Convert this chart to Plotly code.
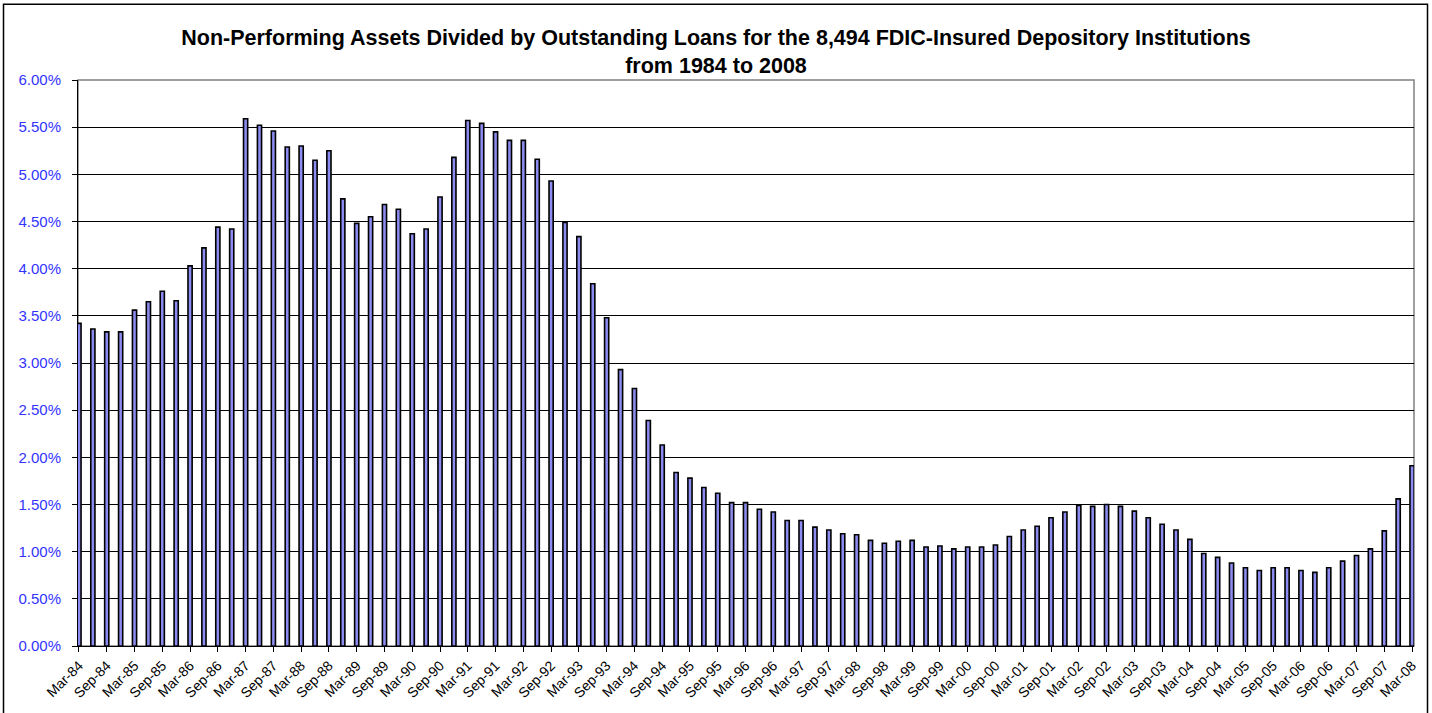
import plotly.graph_objects as go

# ---- data -------------------------------------------------------------
years = [f"{y % 100:02d}" for y in range(1984, 2009)]
months = ["Mar", "Jun", "Sep", "Dec"]
quarters = [f"{m}-{y}" for y in years for m in months][:97]  # Mar-84 .. Mar-08

npa_pct = [
    3.42, 3.36, 3.33, 3.33, 3.56, 3.65, 3.76, 3.66, 4.03, 4.22,
    4.44, 4.42, 5.59, 5.52, 5.46, 5.29, 5.30, 5.15, 5.25, 4.74,
    4.48, 4.55, 4.68, 4.63, 4.37, 4.42, 4.76, 5.18, 5.57, 5.54,
    5.45, 5.36, 5.36, 5.16, 4.93, 4.49, 4.34, 3.84, 3.48, 2.93,
    2.73, 2.39, 2.13, 1.84, 1.78, 1.68, 1.62, 1.52, 1.52, 1.45,
    1.42, 1.33, 1.33, 1.26, 1.23, 1.19, 1.18, 1.12, 1.09, 1.11,
    1.12, 1.05, 1.06, 1.03, 1.05, 1.05, 1.07, 1.16, 1.23, 1.27,
    1.36, 1.42, 1.49, 1.48, 1.50, 1.48, 1.43, 1.36, 1.29, 1.23,
    1.13, 0.98, 0.94, 0.88, 0.83, 0.80, 0.83, 0.83, 0.80, 0.78,
    0.83, 0.90, 0.96, 1.03, 1.22, 1.56, 1.91,
]

tick_idx = list(range(0, len(quarters), 2))
tick_labels = [quarters[i] for i in tick_idx]
y_ticks = [0.0, 0.005, 0.01, 0.015, 0.02, 0.025, 0.03, 0.035, 0.04, 0.045, 0.05, 0.055, 0.06]

# ---- figure -----------------------------------------------------------
x_idx = list(range(len(quarters)))
fig = go.Figure(
    go.Bar(
        x=x_idx,
        y=[v / 100 for v in npa_pct],
        width=0.3,
        marker=dict(color="#8C8CF0", line=dict(color="black", width=1.6)),
        customdata=quarters,
        hovertemplate="%{customdata}: %{y:.2%}<extra></extra>",
    )
)

W, H = 1432, 713
L, R, T, B = 78, 18, 80, 65
pw, ph = W - L - R, H - T - B

def px_x(p):
    return (p - L) / pw

def px_y(p):
    return (H - B - p) / ph

fig.update_layout(
    width=W,
    height=H,
    margin=dict(l=L, r=R, t=T, b=B),
    paper_bgcolor="white",
    plot_bgcolor="white",
    showlegend=False,
    font=dict(family="Arial, Liberation Sans, sans-serif", color="black"),
    title=dict(
        text="Non-Performing Assets Divided by Outstanding Loans for the 8,494 FDIC-Insured Depository Institutions<br>from 1984 to 2008",
        x=0.5,
        xanchor="center",
        y=1 - 45 / H,
        yanchor="top",
        font=dict(size=21.5, family="Arial, Liberation Sans, sans-serif", color="black", weight="bold"),
    ),
    xaxis=dict(
        range=[-0.07, 96.14],
        tickmode="array",
        tickvals=tick_idx,
        ticktext=tick_labels,
        tickangle=-45,
        ticks="outside",
        ticklen=5,
        tickcolor="black",
        tickfont=dict(size=14, color="black"),
        showgrid=False,
        showline=True,
        linecolor="black",
        linewidth=1,
        zeroline=False,
    ),
    yaxis=dict(
        range=[0, 0.06],
        tickmode="array",
        tickvals=y_ticks,
        tickformat=".2%",
        ticks="outside",
        ticklen=5,
        tickcolor="black",
        tickfont=dict(size=15, color="#3333FF"),
        ticklabelstandoff=8,
        showgrid=True,
        gridcolor="black",
        gridwidth=1,
        showline=True,
        linecolor="black",
        linewidth=1,
        zeroline=False,
    ),
    shapes=[
        # plot-area border (gray)
        dict(type="rect", xref="paper", yref="paper", x0=0, x1=1, y0=0, y1=1,
             line=dict(color="#808080", width=1.5), fillcolor="rgba(0,0,0,0)", layer="below"),
        # outer chart border
        dict(type="rect", xref="paper", yref="paper",
             x0=px_x(3.5), x1=px_x(1427.5), y0=px_y(716), y1=px_y(4),
             line=dict(color="black", width=1.5), fillcolor="rgba(0,0,0,0)"),
    ],
)

fig.write_html("out.html", config={"displayModeBar": False},
               post_script="document.body.style.margin='0';")
